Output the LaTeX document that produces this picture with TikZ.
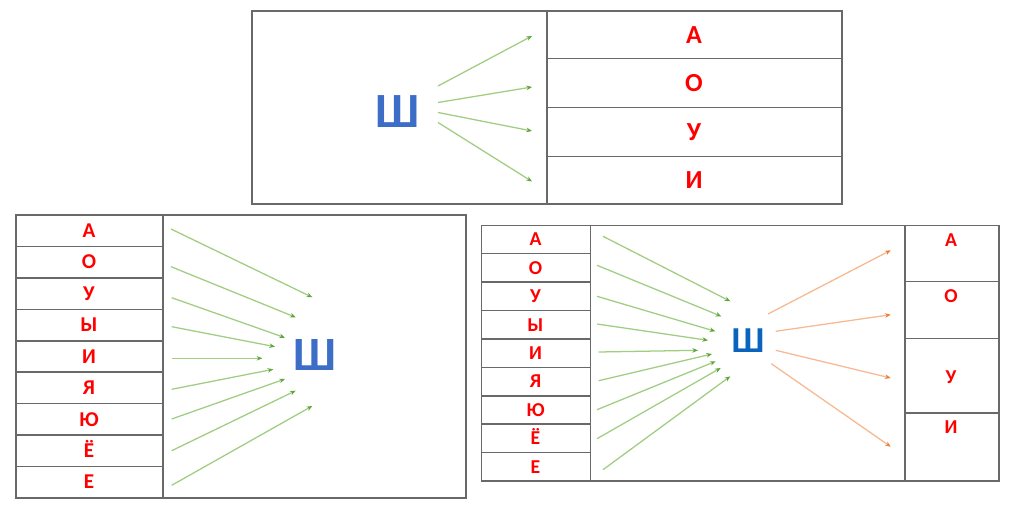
\documentclass[tikz,border=0pt]{standalone}
\usepackage{fontspec}
\setmainfont{Carlito}
\usetikzlibrary{arrows.meta}
\definecolor{frame}{RGB}{105,105,105}
\definecolor{gline}{RGB}{160,205,130}
\definecolor{gtip}{RGB}{95,165,60}
\definecolor{oline}{RGB}{246,185,145}
\definecolor{otip}{RGB}{235,125,50}
\definecolor{letred}{RGB}{255,0,0}
\definecolor{shblueA}{RGB}{60,110,200}
\definecolor{shblueB}{RGB}{10,100,190}
\tikzset{
  frm/.style={draw=frame,line width=1.1pt},
  lt/.style={text=letred,inner sep=0pt,text height={0.64*#1pt},text depth=0pt,font=\bfseries\fontsize{#1}{#1}\selectfont},
  sh/.style={inner sep=0pt,text height={0.64*#1pt},text depth=0pt,font=\bfseries\fontsize{#1}{#1}\selectfont},
  garr/.style={draw=gline,line width=0.9pt,-{Stealth[length=4pt,width=3.2pt,color=gtip]}},
  oarr/.style={draw=oline,line width=0.9pt,-{Stealth[length=4pt,width=3.2pt,color=otip]}}
}
\begin{document}
\begin{tikzpicture}[x=0.025cm,y=-0.025cm]
\useasboundingbox[fill=white] (0,0) rectangle (1012,517);
% ---------- top panel ----------
\draw[frm] (252,11) rectangle (842,204);
\draw[frm] (547,11) -- (547,204);
\foreach \yy in {58.5,107.5,156.5} \draw[frm] (547,\yy) -- (842,\yy);
\node[lt=18.5] (tA) at (694,35) {А};
\node[lt=18.5] (tO) at (694,83.5) {О};
\node[lt=18.5] (tU) at (694,132) {У};
\node[lt=18.5] (tI) at (694,180.5) {И};
\node[sh=35,text=shblueA] (tSh) at (398,111.5) {Ш};
\coordinate (ts1) at (438,86); \coordinate (te1) at (532,36);
\coordinate (ts2) at (438,102.5); \coordinate (te2) at (532,87);
\coordinate (ts3) at (438,112.5); \coordinate (te3) at (532,131);
\coordinate (ts4) at (438,122.5); \coordinate (te4) at (532,181.5);
\foreach \i in {1,...,4} \draw[garr] (ts\i) -- (te\i);
% ---------- bottom-left panel ----------
\draw[frm] (16,215) rectangle (466,498);
\draw[frm] (163,215) -- (163,498);
\foreach \k in {1,...,8} \draw[frm] (16,{215+\k*31.44}) -- (163,{215+\k*31.44});
\foreach \l [count=\k from 0] in {А,О,У,Ы,И,Я,Ю,Ё,Е}
  \node[lt=15] (bl\k) at (89,{230.7+\k*31.44}) {\l};
\node[sh=34,text=shblueA] (blSh) at (315,355.3) {Ш};
\coordinate (bs1) at (171,229);   \coordinate (be1) at (312.3,297.3);
\coordinate (bs2) at (171,266.7); \coordinate (be2) at (295.7,317.3);
\coordinate (bs3) at (171.7,297.7); \coordinate (be3) at (285,337.7);
\coordinate (bs4) at (171.7,326.7); \coordinate (be4) at (275,346.7);
\coordinate (bs5) at (171.7,358.3); \coordinate (be5) at (262.3,358.3);
\coordinate (bs6) at (171.7,389.3); \coordinate (be6) at (273.3,369.3);
\coordinate (bs7) at (171.7,419);   \coordinate (be7) at (285,379);
\coordinate (bs8) at (171.7,450.7); \coordinate (be8) at (295.7,390.7);
\coordinate (bs9) at (171.7,485.3); \coordinate (be9) at (312.3,406);
\foreach \i in {1,...,9} \draw[garr] (bs\i) -- (be\i);
% ---------- bottom-right panel ----------
\draw[frm] (481.5,225.3) rectangle (999,481);
\draw[frm] (590.5,225.3) -- (590.5,481);
\draw[frm] (905,225.3) -- (905,481);
\foreach \k in {1,...,8} \draw[frm] (481.5,{225.3+\k*28.41}) -- (590.5,{225.3+\k*28.41});
\foreach \l [count=\k from 0] in {А,О,У,Ы,И,Я,Ю,Ё,Е}
  \node[lt=14] (br\k) at (535.5,{239.5+\k*28.41}) {\l};
\foreach \yy in {281.3,338.7,413} \draw[frm] (905,\yy) -- (999,\yy);
\node[lt=14] (rA) at (951,240) {А};
\node[lt=14] (rO) at (951,296.5) {О};
\node[lt=14] (rU) at (951,377.5) {У};
\node[lt=14] (rI) at (951,427.5) {И};
\node[sh=26,text=shblueB] (brSh) at (748,341.3) {Ш};
\coordinate (cs1) at (603,236.3);   \coordinate (ce1) at (730.3,301.3);
\coordinate (cs2) at (597,265.3);   \coordinate (ce2) at (721.3,316.3);
\coordinate (cs3) at (597,296.3);   \coordinate (ce3) at (715.3,331.3);
\coordinate (cs4) at (597,324);     \coordinate (ce4) at (708,340.3);
\coordinate (cs5) at (598.7,352);   \coordinate (ce5) at (698,350.3);
\coordinate (cs6) at (598.7,380.7); \coordinate (ce6) at (712,354);
\coordinate (cs7) at (597,409.7);   \coordinate (ce7) at (715.7,361.3);
\coordinate (cs8) at (597,438.7);   \coordinate (ce8) at (720.7,368);
\coordinate (cs9) at (603,469.7);   \coordinate (ce9) at (730.3,376.3);
\foreach \i in {1,...,9} \draw[garr] (cs\i) -- (ce\i);
\coordinate (os1) at (768,314);     \coordinate (oe1) at (890.7,250.3);
\coordinate (os2) at (775.7,331.3); \coordinate (oe2) at (890.7,314.7);
\coordinate (os3) at (775.7,350.3); \coordinate (oe3) at (890.7,378);
\coordinate (os4) at (771.3,363.7); \coordinate (oe4) at (890.7,446.7);
\foreach \i in {1,...,4} \draw[oarr] (os\i) -- (oe\i);
\end{tikzpicture}
\end{document}
